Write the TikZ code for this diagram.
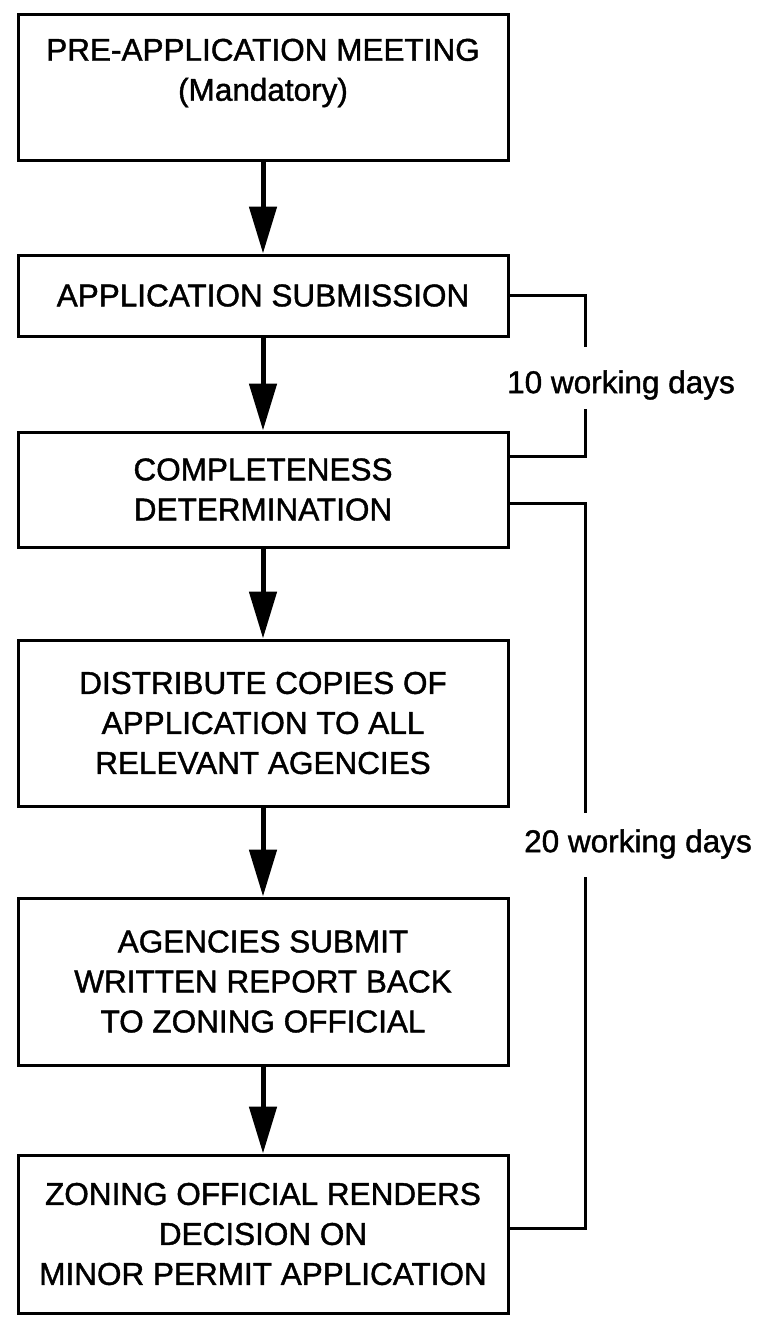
\documentclass[tikz,border=0pt]{standalone}
\usepackage{fontspec}
\setmainfont[FakeBold=1.3]{Liberation Sans}
\usetikzlibrary{arrows.meta,calc}

\tikzset{
  stage/.style={draw, line width=3pt, minimum width=490pt, inner sep=0pt, align=center,
    font=\fontsize{31.5}{40}\selectfont},
  stagetext/.style={inner sep=0pt, align=center, font=\fontsize{31.5}{40}\selectfont},
  flow/.style={line width=5pt, -{Triangle[length=47pt,width=27pt]}},
  span/.style={line width=3pt},
  days/.style={inner sep=0pt, font=\fontsize{31.5}{38}\selectfont}
}

\begin{document}
\begin{tikzpicture}[x=1pt,y=-1pt]
        \useasboundingbox (0,0) rectangle (761,1320);

        % Pre-application meeting
        \node[stage, minimum height=146pt] (premeet) at (263,87) {};
        \node[stagetext] (premeettext) at (263,73) {PRE-APPLICATION MEETING\\(Mandatory)};

        % Steps
        \node[stage, minimum height=81pt] (submit) at (263,295.5) {APPLICATION SUBMISSION};
        \node[stage, minimum height=115pt] (complete) at (263,489.5) {COMPLETENESS\\DETERMINATION};
        \node[stage, minimum height=166pt] (distrib) at (263,723) {DISTRIBUTE COPIES OF\\APPLICATION TO ALL\\RELEVANT AGENCIES};
        \node[stage, minimum height=167pt] (agencies) at (263,981.5) {AGENCIES SUBMIT\\WRITTEN REPORT BACK\\TO ZONING OFFICIAL};
        \node[stage, minimum height=158pt] (decision) at (263,1234) {ZONING OFFICIAL RENDERS\\DECISION ON\\MINOR PERMIT APPLICATION};

        % Flow arrows
        \draw[flow] (premeet) -- (submit);
        \draw[flow] (submit) -- (complete);
        \draw[flow] (complete) -- (distrib);
        \draw[flow] (distrib) -- (agencies);
        \draw[flow] (agencies) -- (decision);

        % 10 working days
        \node[days] (ten) at (621,385) {10 working days};
        \coordinate (tenup) at (585,347);
        \coordinate (tendown) at (585,409);
        \draw[span] (submit.east) -| (tenup);
        \draw[span] (tendown) |- ($(complete.north east)+(0,26)$);

        % 20 working days
        \node[days] (twenty) at (638,844) {20 working days};
        \coordinate (twentyup) at (585,813);
        \coordinate (twentydown) at (585,877);
        \draw[span] ($(complete.north east)+(0,73)$) -| (twentyup);
        \draw[span] (twentydown) |- ($(decision.north east)+(0,75)$);
\end{tikzpicture}
\end{document}
